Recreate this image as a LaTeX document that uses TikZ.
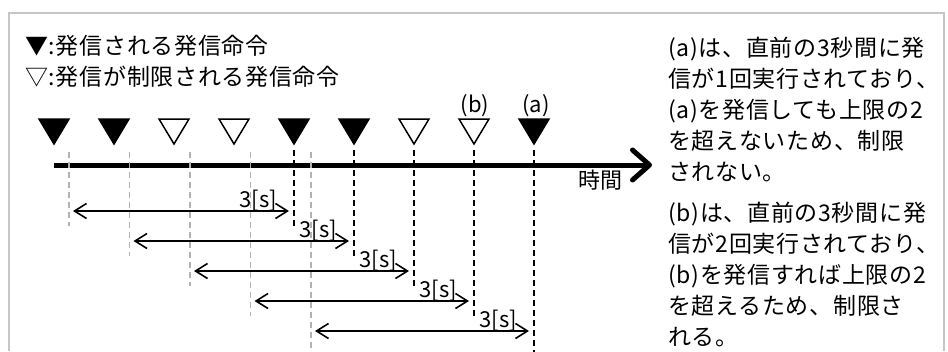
\documentclass[tikz,border=0pt]{standalone}
\usepackage{fontspec}
\usepackage{tikz}
\usetikzlibrary{arrows.meta}
\newfontfamily\jp[LetterSpace=3]{Noto Sans CJK JP}
\newfontfamily\jpl{Noto Sans CJK JP}

\begin{document}
\begin{tikzpicture}[x=1pt,y=-1pt,
	txt/.style={font=\jp\fontsize{23}{23}\selectfont,inner sep=0pt},
	lbl/.style={font=\jpl\fontsize{22}{22}\selectfont,inner sep=0pt},
	sent/.style={fill=black,draw=black,line width=1.5pt},
	held/.style={fill=white,draw=black,line width=1.5pt},
	cut/.style={line width=1.6pt,dash pattern=on 6pt off 4pt},
	old/.style={cut,draw=gray!60},
	win/.style={line width=1.6pt,{Straight Barb[length=12pt,width=15pt]}-{Straight Barb[length=12pt,width=15pt]}}]
	\useasboundingbox (0,0) rectangle (948,351);
	\draw[gray!45,line width=1.5pt] (9,351) -- (9,13) -- (944,13) -- (944,351);
	% legend
	\node[txt,anchor=base west] (key1) at (25,54) {▼:発信される発信命令};
	\node[txt,anchor=base west] (key2) at (25,85) {▽:発信が制限される発信命令};
	% commands on the time line
	\foreach \k/\s in {0/sent,1/sent,2/held,3/held,4/sent,5/sent,6/held,7/held,8/sent}{
		\draw[\s] ({54+60*\k-15},119) -- ({54+60*\k+15},119) -- ({54+60*\k},144) -- cycle;
		\coordinate (t\k) at ({54+60*\k},150);
	}
	\node[lbl,anchor=base] (lb) at (475,112) {(b)};
	\node[lbl,anchor=base] (la) at (536,112) {(a)};
	% time axis
	\coordinate (ax0) at (54,165);
	\coordinate (ax1) at (652,165);
	\draw[line width=5pt,-{Straight Barb[round,length=17pt,width=30pt]}] (ax0) -- (ax1);
	\node[lbl,anchor=base] (tm) at (600,188) {時間};
	% 3 second windows
	\foreach \k in {0,...,4}{
		\coordinate (g\k) at ({69+60.5*\k},152);
		\coordinate (gb\k) at ({69+60.5*\k},{226+30*\k});
		\coordinate (bb\k) at ({294+60*\k},{226+30*\k});
		\coordinate (ws\k) at ({73+60.5*\k},{211+30*\k});
		\coordinate (we\k) at ({289+60*\k},{211+30*\k});
	}
	\coordinate (gb4) at (311,352);
	\coordinate (bb4) at (534,352);
	\foreach \k [evaluate=\k as \j using int(\k+4)] in {0,...,4}{
		\draw[old] (g\k) -- (gb\k);
		\draw[cut] (t\j) -- (bb\k);
		\draw[win] (ws\k) -- (we\k);
		\path (we\k) ++(-12,-4) node[lbl,anchor=base east] (s\k) {3[s]};
	}
	% notes
	\foreach \t [count=\i] in {{(a)は、直前の3秒間に発},{信が1回実行されており、},{(a)を発信しても上限の2},{を超えないため、制限},{されない。}}
		\node[txt,anchor=base west] (na\i) at (668,{56+31*(\i-1)}) {\t};
	\foreach \t [count=\i] in {{(b)は、直前の3秒間に発},{信が2回実行されており、},{(b)を発信すれば上限の2},{を超えるため、制限さ},{れる。}}
		\node[txt,anchor=base west] (nb\i) at (668,{221+31*(\i-1)}) {\t};
\end{tikzpicture}
\end{document}
